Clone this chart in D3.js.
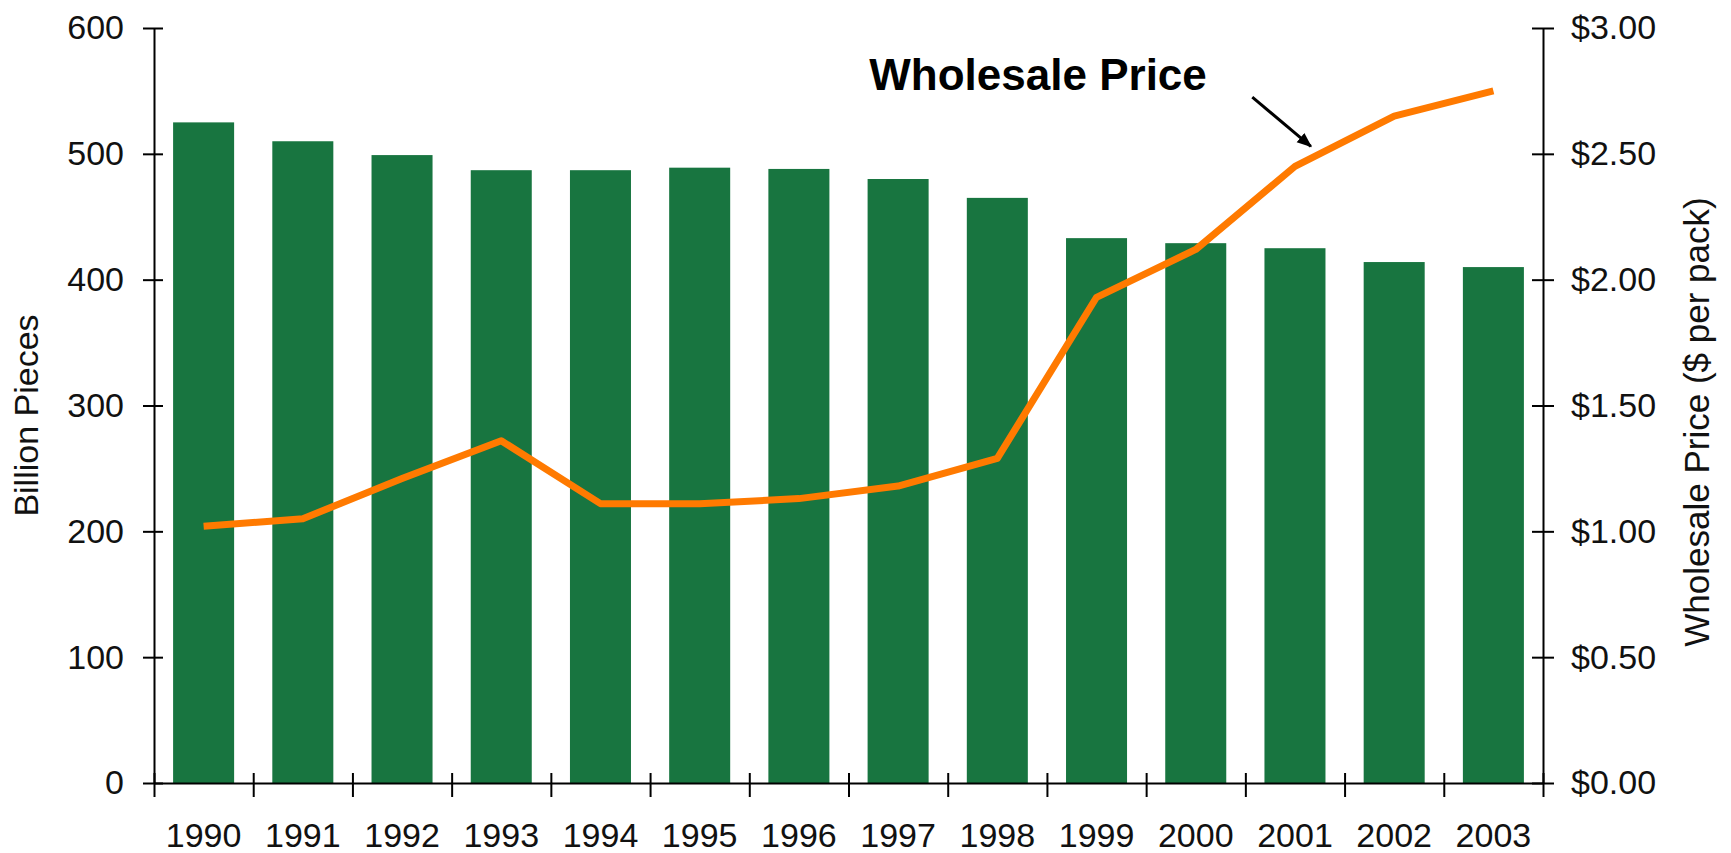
<!DOCTYPE html>
<html>
<head>
<meta charset="utf-8">
<script src="https://cdn.jsdelivr.net/npm/d3@7"></script>
<style>
    body { margin: 0; background: #fff; }
    svg { display: block; font-family: "Liberation Sans", Arial, sans-serif; }
    .axis path, .axis line { stroke: #000; stroke-width: 2; }
    .axis text { font-size: 34px; fill: #111; font-family: "Liberation Sans", Arial, sans-serif; }
</style>
</head>
<body>
<div id="chart"></div>
<script>
// data
var years = ["1990", "1991", "1992", "1993", "1994", "1995", "1996", "1997", "1998", "1999", "2000", "2001", "2002", "2003"];
var billion_pieces = [525, 510, 499, 487, 487, 489, 488, 480, 465, 433, 429, 425, 414, 410];
var wholesale_price = [1.02, 1.05, 1.21, 1.36, 1.11, 1.11, 1.13, 1.18, 1.29, 1.93, 2.12, 2.45, 2.65, 2.75];
var left_ticks = [0, 100, 200, 300, 400, 500, 600];
var right_ticks = [0, 0.5, 1, 1.5, 2, 2.5, 3];

const width = 1731, height = 853;
const plot = { top: 28, right: 1543, bottom: 783, left: 154 };

const svg = d3.select("#chart")
    .append("svg")
    .attr("width", width)
    .attr("height", height)

// scales
var x = d3.scaleBand()
    .domain(years)
    .range([plot.left, plot.right])
    .paddingInner(0.385)
    .paddingOuter(0.1925)

var xStep = d3.scaleLinear().domain([0, years.length]).range([plot.left, plot.right])

var y = d3.scaleLinear().domain([0, 600]).range([plot.bottom, plot.top])
var yPrice = d3.scaleLinear().domain([0, 3]).range([plot.bottom, plot.top])

// bars
svg.append("g")
    .selectAll("rect")
    .data(years)
    .join("rect")
    .attr("x", d => x(d))
    .attr("y", (d, i) => y(billion_pieces[i]))
    .attr("width", x.bandwidth())
    .attr("height", (d, i) => y(0) - y(billion_pieces[i]))
    .attr("fill", "#187540")

// left axis
svg.append("g")
    .attr("class", "axis")
    .attr("transform", "translate(" + plot.left + ",0)")
    .call(d3.axisLeft(y).tickValues(left_ticks).tickSize(11).tickPadding(19).tickSizeOuter(0))
    .call(g => g.selectAll(".tick line").attr("x1", 9))

// right axis
svg.append("g")
    .attr("class", "axis")
    .attr("transform", "translate(" + plot.right + ",0)")
    .call(d3.axisRight(yPrice).tickValues(right_ticks).tickSize(11).tickPadding(17).tickSizeOuter(0)
        .tickFormat(d3.format("$.2f")))
    .call(g => g.selectAll(".tick line").attr("x1", -11))

// bottom axis: boundary ticks
svg.append("g")
    .attr("class", "axis")
    .attr("transform", "translate(0," + plot.bottom + ")")
    .call(d3.axisBottom(xStep).ticks(years.length).tickSize(14).tickFormat("").tickSizeOuter(0))
    .call(g => g.selectAll(".tick line").attr("y1", -10))

// year labels
svg.append("g")
    .attr("class", "axis")
    .attr("transform", "translate(0," + plot.bottom + ")")
    .call(d3.axisBottom(x).tickSize(0).tickPadding(40))
    .call(g => g.select(".domain").remove())

// price line
var line = d3.line()
    .x((d, i) => x(years[i]) + x.bandwidth() / 2)
    .y(d => yPrice(d))

svg.append("path")
    .datum(wholesale_price)
    .attr("d", line)
    .attr("fill", "none")
    .attr("stroke", "#ff7a00")
    .attr("stroke-width", 7)
    .attr("stroke-linejoin", "round")

// axis titles
svg.append("text")
    .attr("transform", "translate(38," + ((plot.top + plot.bottom) / 2 + 10) + ") rotate(-90)")
    .attr("text-anchor", "middle")
    .style("font-size", "34px")
    .style("fill", "#111")
    .text("Billion Pieces")

svg.append("text")
    .attr("transform", "translate(1709,422) rotate(-90)")
    .attr("text-anchor", "middle")
    .style("font-size", "35px")
    .style("fill", "#111")
    .text("Wholesale Price ($ per pack)")

// annotation
svg.append("defs").append("marker")
    .attr("id", "arrow")
    .attr("viewBox", "0 0 10 10")
    .attr("refX", 9).attr("refY", 5)
    .attr("markerWidth", 5).attr("markerHeight", 5)
    .attr("orient", "auto")
    .append("path")
    .attr("d", "M0,1 L10,5 L0,9 Z")
    .attr("fill", "#000")

svg.append("text")
    .attr("x", xStep(7.21))
    .attr("y", yPrice(2.753))
    .style("font-size", "44px")
    .style("font-weight", "bold")
    .style("fill", "#000")
    .text("Wholesale Price")

svg.append("line")
    .attr("x1", xStep(11.07)).attr("y1", yPrice(2.725))
    .attr("x2", xStep(11.66)).attr("y2", yPrice(2.53))
    .attr("stroke", "#000")
    .attr("stroke-width", 3)
    .attr("marker-end", "url(#arrow)")
</script>
</body>
</html>
